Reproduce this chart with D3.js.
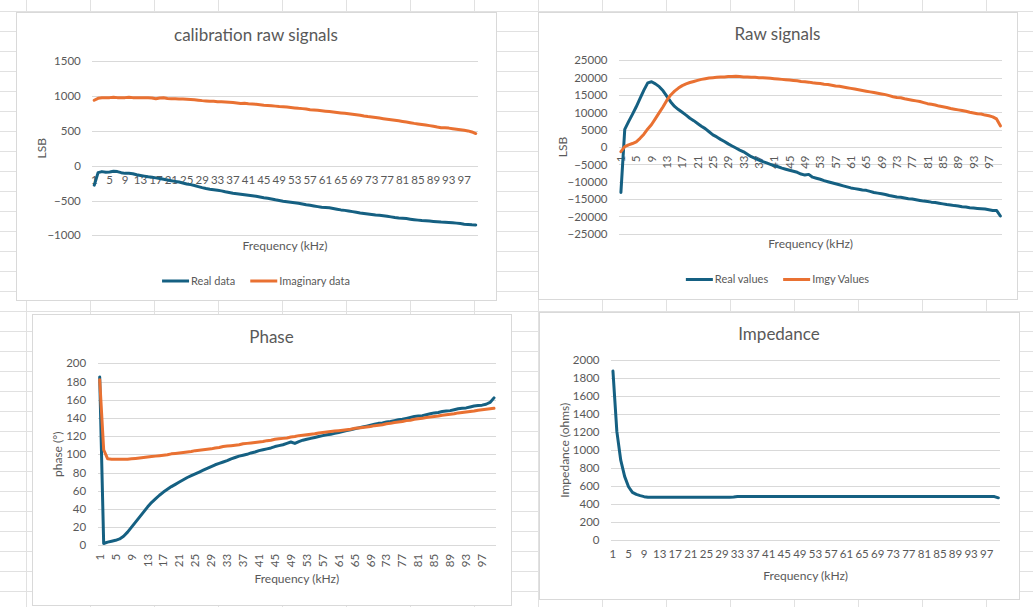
<!DOCTYPE html>
<html>
<head>
<meta charset="utf-8">
<script src="https://cdn.jsdelivr.net/npm/d3@7"></script>
<style>
	body { margin: 0; background: #fff; }
	svg text { font-family: Lato, 'Open Sans', sans-serif; }
</style>
</head>
<body>
<svg id="sheet" width="1033" height="607"></svg>
<script>

// frequency categories (kHz), one point per category
var categories = d3.range(1, 101);
var xTickLabels = categories.filter(function(d, i) { return i % 4 == 0; });

// calibration raw signals
var calYTicks = [-1000, -500, 0, 500, 1000, 1500];
var calReal = [-280, -100, -85, -95, -90, -80, -85, -100, -110, -110,
	-115, -130, -140, -150, -160, -165, -175, -185, -195, -205,
	-215, -225, -235, -248, -262, -272, -285, -300, -315, -328,
	-338, -345, -352, -362, -375, -385, -395, -402, -410, -418,
	-425, -432, -440, -450, -460, -468, -478, -490, -500, -510,
	-518, -525, -532, -540, -550, -560, -568, -578, -588, -598,
	-602, -605, -615, -625, -635, -642, -650, -660, -670, -680,
	-688, -695, -702, -708, -712, -718, -725, -735, -745, -752,
	-755, -760, -768, -775, -782, -788, -792, -796, -800, -805,
	-810, -812, -815, -820, -825, -832, -840, -845, -850, -852];
var calImag = [940, 968, 975, 975, 978, 985, 978, 975, 978, 985,
	978, 976, 976, 976, 976, 974, 962, 972, 975, 966,
	963, 962, 960, 958, 955, 952, 948, 942, 935, 930,
	925, 926, 920, 918, 916, 912, 908, 902, 895, 897,
	890, 886, 882, 876, 870, 866, 862, 856, 850, 846,
	842, 836, 830, 824, 820, 814, 805, 800, 796, 790,
	784, 778, 772, 765, 758, 752, 745, 738, 732, 725,
	714, 706, 700, 692, 684, 676, 668, 660, 652, 645,
	636, 628, 618, 608, 600, 592, 585, 576, 566, 555,
	546, 545, 540, 532, 524, 516, 508, 500, 485, 462];

// raw signals
var rawYTicks = [-25000, -20000, -15000, -10000, -5000, 0, 5000, 10000, 15000, 20000, 25000];
var rawReal = [-13100, 5100, 7300, 9400, 11600, 14000, 16400, 18500, 18800, 18200,
	17400, 16200, 14600, 13000, 11700, 10800, 10000, 9200, 8300, 7600,
	6800, 6000, 5300, 4400, 3500, 2900, 2200, 1600, 900, 300,
	-300, -900, -1400, -2100, -2800, -3300, -3800, -4200, -4600, -5000,
	-5400, -5700, -6100, -6400, -6700, -7000, -7300, -7800, -8100, -7900,
	-8700, -9000, -9300, -9700, -10000, -10300, -10600, -10900, -11200, -11500,
	-11800, -12000, -12200, -12400, -12500, -12800, -13100, -13300, -13500, -13700,
	-14000, -14200, -14400, -14500, -14700, -14900, -15000, -15200, -15400, -15600,
	-15700, -15900, -16000, -16200, -16400, -16600, -16700, -16900, -17000, -17200,
	-17300, -17500, -17600, -17700, -17800, -17900, -18100, -18300, -18300, -19900];
var rawImag = [-1350, 100, 600, 1000, 1500, 2500, 3700, 5200, 6500, 8200,
	9900, 11600, 13500, 15000, 16100, 17000, 17700, 18200, 18600, 18900,
	19200, 19500, 19700, 19900, 20000, 20100, 20200, 20200, 20300, 20300,
	20400, 20300, 20200, 20200, 20100, 20100, 20000, 20000, 19900, 19800,
	19700, 19600, 19500, 19400, 19300, 19200, 19100, 18900, 18800, 18700,
	18500, 18400, 18300, 18100, 18000, 17800, 17600, 17500, 17300, 17100,
	16900, 16700, 16500, 16300, 16100, 15900, 15700, 15500, 15300, 15100,
	14800, 14500, 14300, 14200, 13900, 13700, 13500, 13300, 13100, 12800,
	12500, 12300, 12100, 11800, 11600, 11400, 11100, 10900, 10700, 10500,
	10300, 10000, 9800, 9600, 9500, 9200, 9000, 8700, 8100, 6100];

// phase (degrees)
var phaseYTicks = [0, 20, 40, 60, 80, 100, 120, 140, 160, 180, 200];
var phaseReal = [185, 2, 3.5, 4.5, 5.5, 7, 10, 14.5, 20, 25.5,
	31, 36.5, 42, 47, 51, 55, 58.5, 61.5, 64.5, 67,
	69.5, 72, 74.5, 76.5, 78.5, 80.5, 82.5, 84.5, 86.5, 88.5,
	90, 91.5, 93, 95, 96.5, 98, 99, 100, 101.5, 102.5,
	104, 105, 106, 107, 108.5, 109.5, 110.5, 112, 113.5, 112,
	114, 115.5, 116.5, 117.5, 118.5, 119.5, 120.5, 121.5, 122, 123,
	124, 125, 126, 127, 128, 129, 130, 131, 132, 133,
	134, 134.5, 135.5, 136, 137, 138, 138.5, 139.5, 140.5, 141.5,
	142, 142.5, 143.5, 144.5, 145.5, 146, 147, 147.5, 148, 149,
	150, 150.5, 151, 152, 153, 153.5, 154, 155, 157, 162];
var phaseImag = [182, 105, 95, 94.5, 94.5, 94.5, 94.5, 94.5, 95, 95.5,
	96, 96.5, 97, 97.5, 98, 98.5, 99, 99.5, 100.5, 101,
	101.5, 102, 102.5, 103, 104, 104.5, 105, 105.5, 106, 107,
	107.5, 108.5, 109, 109.5, 110, 110.5, 111.5, 112, 112.5, 113,
	113.5, 114, 115, 115.5, 116.5, 117, 117.5, 118, 119, 119.5,
	120.5, 121, 121.5, 122, 122.5, 123.5, 124, 124.5, 125, 125.5,
	126, 126.5, 127, 127.5, 128.5, 129, 129.5, 130, 130.5, 131.5,
	132, 132.5, 133.5, 134, 135, 135.5, 136, 137, 137.5, 138.5,
	139, 139.5, 140.5, 141, 141.5, 142, 143, 143.5, 144, 144.5,
	145.5, 146, 146.5, 147, 147.5, 148.5, 149, 149.5, 150, 150.5];

// impedance (ohms)
var impYTicks = [0, 200, 400, 600, 800, 1000, 1200, 1400, 1600, 1800, 2000];
var impedance = [1880, 1210, 890, 710, 595, 533, 510, 496, 485, 478,
	478, 478, 478, 478, 478, 478, 478, 478, 478, 478,
	478, 478, 478, 478, 478, 478, 478, 478, 478, 478,
	478, 480, 486, 486, 486, 486, 486, 486, 486, 486,
	486, 486, 486, 486, 486, 486, 486, 486, 486, 486,
	486, 486, 486, 486, 486, 486, 486, 486, 486, 486,
	486, 486, 486, 486, 486, 486, 486, 486, 486, 486,
	486, 486, 486, 486, 486, 486, 486, 486, 486, 486,
	486, 486, 486, 486, 486, 486, 486, 486, 486, 486,
	486, 486, 486, 486, 486, 486, 486, 486, 486, 472];

var BLUE = '#156082';
var ORANGE = '#E97132';
var GRID = '#d9d9d9';
var TEXT = '#595959';

var svg = d3.select('#sheet');

// spreadsheet cell grid behind the charts
var sheet = svg.append('g');
for (var cx = 26.5; cx < 1033; cx += 64) {
	sheet.append('line').attr('x1', cx).attr('x2', cx).attr('y1', 0).attr('y2', 607)
		.attr('stroke', '#e1e1e1');
}
for (var cy = 11.5; cy < 607; cy += 20) {
	sheet.append('line').attr('x1', 0).attr('x2', 1033).attr('y1', cy).attr('y2', cy)
		.attr('stroke', '#e1e1e1');
}

function drawChart(cfg) {

	var g = svg.append('g');
	var box = cfg.box, p = cfg.plot;

	g.append('rect')
		.attr('x', box[0] + 0.5).attr('y', box[1] + 0.5)
		.attr('width', box[2] - box[0]).attr('height', box[3] - box[1])
		.attr('fill', 'white')
		.attr('stroke', GRID)

	var x = d3.scaleBand().domain(categories).range([p[0], p[2]]);
	var y = d3.scaleLinear().domain(d3.extent(cfg.yTicks)).range([p[3], p[1]]);

	// y axis: gridlines + labels
	var ya = g.append('g')
		.attr('transform', 'translate(' + p[0] + ',0)')
		.call(d3.axisLeft(y).tickValues(cfg.yTicks).tickFormat(d3.format('d'))
			.tickSize(-(p[2] - p[0])).tickPadding(11.5));
	ya.select('.domain').remove();
	ya.selectAll('line').attr('stroke', GRID).attr('shape-rendering', 'crispEdges');
	ya.selectAll('text').attr('fill', TEXT).attr('font-size', '11.5px').attr('font-family', null);

	// x axis: category labels crossing at zero
	var xa = g.append('g')
		.attr('transform', 'translate(0,' + y(0) + ')')
		.call(d3.axisBottom(x).tickValues(xTickLabels).tickSize(0).tickPadding(10));
	xa.select('.domain').remove();
	xa.selectAll('text').attr('fill', TEXT).attr('font-size', '11.5px').attr('font-family', null);
	if (cfg.rotate) {
		xa.selectAll('text')
			.attr('transform', 'rotate(-90)')
			.attr('text-anchor', 'end')
			.attr('x', -8.5)
			.attr('y', 0)
			.attr('dy', '0.35em');
	}

	// series
	var line = d3.line()
		.x(function(d, i) { return x(categories[i]) + x.bandwidth() / 2; })
		.y(function(d) { return y(d); });

	cfg.series.forEach(function(s) {
		g.append('path')
			.datum(s.values)
			.attr('d', line)
			.attr('fill', 'none')
			.attr('stroke', s.color)
			.attr('stroke-width', 3)
			.attr('stroke-linejoin', 'round')
			.attr('stroke-linecap', 'round');
	});

	// titles
	var midX = (box[0] + box[2]) / 2;
	g.append('text')
		.attr('x', midX).attr('y', box[1] + cfg.titleDy)
		.attr('text-anchor', 'middle')
		.attr('font-size', '17px')
		.attr('fill', TEXT)
		.text(cfg.title);

	g.append('text')
		.attr('x', (p[0] + p[2]) / 2).attr('y', cfg.xTitleY)
		.attr('text-anchor', 'middle')
		.attr('font-size', '12px')
		.attr('fill', TEXT)
		.text('Frequency (kHz)');

	g.append('text')
		.attr('transform', 'translate(' + cfg.yTitleX + ',' + (p[1] + p[3]) / 2 + ') rotate(-90)')
		.attr('text-anchor', 'middle')
		.attr('dy', '0.35em')
		.attr('font-size', '12px')
		.attr('fill', TEXT)
		.text(cfg.yTitle);

	// legend, centred on the chart
	if (cfg.legendY) {
		var lg = g.append('g');
		var cursor = 0;
		cfg.series.forEach(function(s, i) {
			if (i > 0) cursor += 15;
			lg.append('line')
				.attr('x1', cursor).attr('x2', cursor + 27)
				.attr('y1', 0).attr('y2', 0)
				.attr('stroke', s.color).attr('stroke-width', 3);
			var t = lg.append('text')
				.attr('x', cursor + 29).attr('y', 0).attr('dy', '0.35em')
				.attr('font-size', '11px')
				.attr('fill', TEXT)
				.text(s.name);
			cursor += 29 + t.node().getComputedTextLength();
		});
		lg.attr('transform', 'translate(' + (midX - cursor / 2) + ',' + cfg.legendY + ')');
	}
}

drawChart({
	box: [16, 12, 496, 300],
	plot: [92.3, 61.3, 477.7, 235.3],
	yTicks: calYTicks,
	title: 'calibration raw signals', titleDy: 29,
	yTitle: 'LSB', yTitleX: 41.5,
	xTitleY: 250,
	legendY: 281,
	series: [
		{name: 'Real data', values: calReal, color: BLUE},
		{name: 'Imaginary data', values: calImag, color: ORANGE}
	]
});

drawChart({
	box: [538, 12, 1017, 299],
	plot: [619, 60.3, 1002.3, 233.7],
	yTicks: rawYTicks,
	rotate: true,
	title: 'Raw signals', titleDy: 28,
	yTitle: 'LSB', yTitleX: 563,
	xTitleY: 248,
	legendY: 279.5,
	series: [
		{name: 'Real values', values: rawReal, color: BLUE},
		{name: 'Imgy Values', values: rawImag, color: ORANGE}
	]
});

drawChart({
	box: [32, 314, 511, 605],
	plot: [97.7, 363.3, 496, 545.3],
	yTicks: phaseYTicks,
	rotate: true,
	title: 'Phase', titleDy: 29,
	yTitle: 'phase (°)', yTitleX: 58,
	xTitleY: 583,
	series: [
		{name: 'Real', values: phaseReal, color: BLUE},
		{name: 'Imaginary', values: phaseImag, color: ORANGE}
	]
});

drawChart({
	box: [539, 312, 1019, 599],
	plot: [611, 360.3, 1000.3, 540.3],
	yTicks: impYTicks,
	title: 'Impedance', titleDy: 28,
	yTitle: 'Impedance (ohms)', yTitleX: 565,
	xTitleY: 580,
	series: [
		{name: 'Impedance', values: impedance, color: BLUE}
	]
});

</script>
</body>
</html>
